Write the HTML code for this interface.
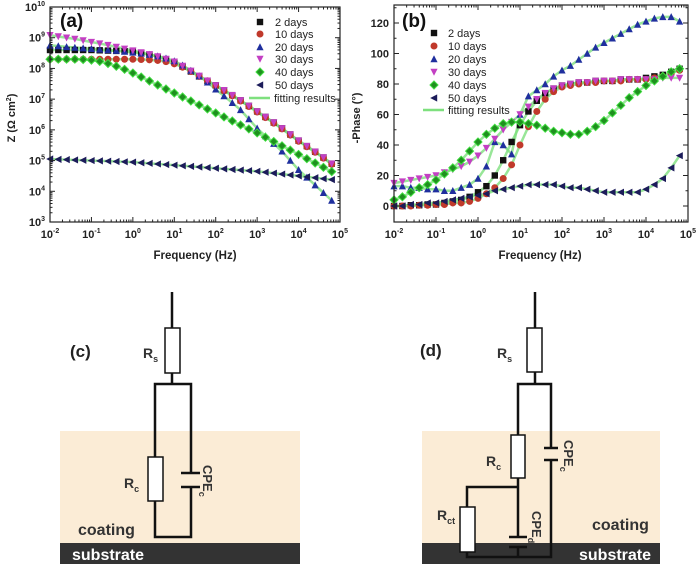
<!DOCTYPE html>
<html><head><meta charset="utf-8"><style>
html,body{margin:0;padding:0;background:#fff;}
svg{display:block;font-family:"Liberation Sans",Arial,sans-serif;}
</style></head><body>
<svg id="fig" width="697" height="568" viewBox="0 0 697 568">
<!-- Circuit (c) -->
<g>
 <rect x="60" y="431" width="240" height="112" fill="#fbecd6"/>
 <rect x="60" y="543" width="240" height="21" fill="#333"/>
 <g stroke="#111" stroke-width="2.5" fill="none">
  <line x1="172" y1="292" x2="172" y2="328"/>
  <line x1="172" y1="373" x2="172" y2="384"/>
  <polyline points="155,457 155,384 191,384 191,473"/>
  <polyline points="155,501 155,537 191,537 191,487"/>
  <line x1="181" y1="473" x2="200" y2="473"/>
  <line x1="181" y1="487" x2="200" y2="487"/>
 </g>
 <rect x="165" y="328" width="15" height="45" fill="#fff" stroke="#111" stroke-width="1.5"/>
 <rect x="148" y="457" width="15" height="44" fill="#fff" stroke="#111" stroke-width="1.5"/>
 <text x="70" y="357" font-size="17" font-weight="bold" fill="#222">(c)</text>
 <text x="143" y="358" font-size="14" font-weight="bold" fill="#333">R<tspan font-size="9" dy="4">s</tspan></text>
 <text x="124" y="488" font-size="14" font-weight="bold" fill="#333">R<tspan font-size="9" dy="4">c</tspan></text>
 <text transform="translate(203,465) rotate(90)" font-size="13" font-weight="bold" fill="#333">CPE<tspan font-size="9" dy="4">c</tspan></text>
 <text x="78" y="535" font-size="16" font-weight="bold" fill="#333">coating</text>
 <text x="72" y="560" font-size="16" font-weight="bold" fill="#fff">substrate</text>
</g>
<!-- Circuit (d) -->
<g>
 <rect x="422" y="431" width="238" height="112" fill="#fbecd6"/>
 <rect x="422" y="543" width="238" height="21" fill="#333"/>
 <g stroke="#111" stroke-width="2.5" fill="none">
  <line x1="535" y1="292" x2="535" y2="328"/>
  <line x1="535" y1="372" x2="535" y2="384"/>
  <polyline points="518,435 518,384 551,384 551,448"/>
  <polyline points="518,478 518,537"/>
  <polyline points="467,507 467,487 518,487"/>
  <polyline points="467,552 467,557 551,557 551,460"/>
  <line x1="544" y1="448" x2="558" y2="448"/>
  <line x1="544" y1="460" x2="558" y2="460"/>
  <line x1="509" y1="537" x2="527" y2="537"/>
  <line x1="509" y1="547" x2="527" y2="547"/>
  <line x1="518" y1="547" x2="518" y2="557"/>
 </g>
 <rect x="527" y="328" width="15" height="44" fill="#fff" stroke="#111" stroke-width="1.5"/>
 <rect x="511" y="435" width="14" height="43" fill="#fff" stroke="#111" stroke-width="1.5"/>
 <rect x="460" y="507" width="15" height="45" fill="#fff" stroke="#111" stroke-width="1.5"/>
 <text x="420" y="356" font-size="17" font-weight="bold" fill="#222">(d)</text>
 <text x="497" y="358" font-size="14" font-weight="bold" fill="#333">R<tspan font-size="9" dy="4">s</tspan></text>
 <text x="486" y="466" font-size="14" font-weight="bold" fill="#333">R<tspan font-size="9" dy="4">c</tspan></text>
 <text x="437" y="520" font-size="14" font-weight="bold" fill="#333">R<tspan font-size="9" dy="4">ct</tspan></text>
 <text transform="translate(564,440) rotate(90)" font-size="13" font-weight="bold" fill="#333">CPE<tspan font-size="9" dy="4">c</tspan></text>
 <text transform="translate(532,511) rotate(90)" font-size="13" font-weight="bold" fill="#333">CPE<tspan font-size="9" dy="4">dl</tspan></text>
 <text x="592" y="530" font-size="16" font-weight="bold" fill="#333">coating</text>
 <text x="579" y="560" font-size="16" font-weight="bold" fill="#fff">substrate</text>
</g>
<g id="chartA"></g>
<g id="chartB"></g>
</svg>
<script>
const logFreq = [-2,-1.8,-1.6,-1.4,-1.2,-1,-0.8,-0.6,-0.4,-0.2,0,0.2,0.4,0.6,0.8,1,1.2,1.4,1.6,1.8,2,2.2,2.4,2.6,2.8,3,3.2,3.4,3.6,3.8,4,4.2,4.4,4.6,4.8];
const seriesNames = ["2 days","10 days","20 days","30 days","40 days","50 days"];
const z2 = [8.6,8.6,8.6,8.6,8.6,8.6,8.59,8.58,8.57,8.56,8.55,8.5,8.45,8.38,8.3,8.2,8.06,7.9,7.74,7.6,7.45,7.29,7.13,6.96,6.78,6.6,6.42,6.24,6.05,5.85,5.65,5.47,5.29,5.1,4.9];
const z10 = [8.3,8.3,8.3,8.3,8.3,8.3,8.3,8.3,8.3,8.3,8.3,8.29,8.28,8.26,8.22,8.15,8.04,7.9,7.74,7.6,7.43,7.27,7.11,6.94,6.76,6.58,6.4,6.22,6.03,5.83,5.63,5.45,5.27,5.08,4.88];
const z20 = [8.75,8.73,8.7,8.68,8.66,8.64,8.62,8.6,8.58,8.55,8.52,8.49,8.45,8.4,8.33,8.24,8.1,7.93,7.75,7.55,7.32,7.1,6.88,6.65,6.35,6.05,5.8,5.55,5.3,5.0,4.7,4.45,4.2,3.95,3.7];
const z30 = [9.08,9.04,9.0,8.96,8.91,8.86,8.81,8.76,8.7,8.64,8.58,8.52,8.46,8.39,8.31,8.22,8.08,7.92,7.76,7.6,7.45,7.29,7.13,6.96,6.78,6.6,6.42,6.24,6.05,5.85,5.65,5.47,5.29,5.1,4.9];
const z40 = [8.3,8.3,8.3,8.3,8.29,8.27,8.23,8.16,8.07,7.97,7.85,7.72,7.59,7.46,7.33,7.2,7.07,6.94,6.81,6.68,6.55,6.42,6.29,6.16,6.03,5.9,5.76,5.62,5.48,5.34,5.2,5.06,4.92,4.78,4.64];
const z50 = [5.05,5.04,5.03,5.02,5.01,5.0,4.99,4.98,4.97,4.96,4.95,4.93,4.91,4.89,4.87,4.85,4.83,4.81,4.79,4.77,4.75,4.73,4.71,4.69,4.67,4.65,4.62,4.59,4.56,4.53,4.5,4.47,4.44,4.41,4.38];
const p2 = [0,0,0.5,0.5,1,1,2,3,4,6,9,13,20,30,42,53,62,69,74,77,79,80,81,81,82,82,82,83,83,83,84,85,86,88,90];
const p10 = [0,0,0,0.5,0.5,1,1,2,2,3,5,8,12,18,27,40,52,62,70,75,78,79,80,81,81,82,82,82,83,83,83,84,85,87,89];
const p20 = [13,13,12,12,11,11,10,10,12,14,18,26,42,40,34,60,72,76,80,85,89,92,96,100,104,107,110,113,116,119,121,123,124,124,121];
const p30 = [15,16,17,18,19,20,22,24,26,29,33,38,44,50,55,60,65,70,74,77,79,80,81,81,82,82,82,83,83,83,83,83,84,84,84];
const p40 = [4,6,9,12,14,17,21,25,30,36,42,47,51,54,55,55,54,53,51,49,48,47,47,49,52,56,61,66,71,75,79,82,85,88,90];
const p50 = [0,0,1,1,2,2,3,4,5,6,7,8,10,11,12,13,14,14,14,14,13,12,12,11,10,9,9,9,9,9,11,14,18,25,33];
const xTickExps = [-2,-1,0,1,2,3,4,5];
const zTickExps = [3,4,5,6,7,8,9,10];
const phaseTicks = [0,20,40,60,80,100,120];

const NS="http://www.w3.org/2000/svg";
function mk(tag, attrs, parent){const e=document.createElementNS(NS,tag);for(const k in attrs)e.setAttribute(k,attrs[k]);parent.appendChild(e);return e;}
const colors=["#111","#c0392b","#1f2f9e","#c33fc3","#1f8f1f","#1c1c5a"];
const shapes=["square","circle","up","down","diamond","left"];
function marker(g,shape,x,y,c){
  const s=3.2;let e;
  if(shape==="square") e=mk("rect",{x:x-s,y:y-s,width:2*s,height:2*s,fill:c},g);
  else if(shape==="circle") e=mk("circle",{cx:x,cy:y,r:s+0.3,fill:c},g);
  else {
    let pts;
    if(shape==="up") pts=[[x,y-s-0.6],[x+s+0.4,y+s],[x-s-0.4,y+s]];
    else if(shape==="down") pts=[[x,y+s+0.6],[x+s+0.4,y-s],[x-s-0.4,y-s]];
    else if(shape==="left") pts=[[x-s-0.6,y],[x+s,y-s-0.4],[x+s,y+s+0.4]];
    else pts=[[x,y-s-0.8],[x+s+0.8,y],[x,y+s+0.8],[x-s-0.8,y]];
    e=mk("polygon",{points:pts.map(p=>p.join(",")).join(" "),fill:c,stroke:shape==="diamond"?"#3ddc3d":"none","stroke-width":shape==="diamond"?1:0},g);
  }
  return e;
}
function tenLabel(g,x,y,exp,anchor){
  const t=mk("text",{x:x,y:y,"font-size":"11","font-weight":"bold",fill:"#222","text-anchor":anchor},g);
  t.innerHTML='10<tspan font-size="7" dy="-5">'+exp+'</tspan>';
  return t;
}
function drawChart(gid, X0,X1,Y0,Y1, ymap, seriesData, isLog){
  const g=document.getElementById(gid);
  const xs=lf=>X0+(lf+2)/7*(X1-X0);
  // fits
  seriesData.forEach((d,i)=>{
    const fl=mk("polyline",{points:logFreq.map((lf,k)=>xs(lf)+","+ymap(d[k])).join(" "),fill:"none",stroke:"#7ee07e","stroke-width":"2.5","stroke-opacity":"0.8"},g);
    
    
  });
  seriesData.forEach((d,i)=>{
    const sg=mk("g",{},g);
    
    
    logFreq.forEach((lf,k)=>{
      const m=marker(sg,shapes[i],xs(lf),ymap(d[k]),colors[i]);
      
      
    });
  });
  // box
  const box=mk("rect",{x:X0,y:Y0,width:X1-X0,height:Y1-Y0,fill:"none",stroke:"#222","stroke-width":"1.2"},g);
  
  
  // x ticks
  xTickExps.forEach(e=>{
    const x=xs(e);
    mk("line",{x1:x,y1:Y1,x2:x,y2:Y1-5,stroke:"#222"},g);
    mk("line",{x1:x,y1:Y0,x2:x,y2:Y0+5,stroke:"#222"},g);
    if(e<5){for(let m=2;m<10;m++){const xm=xs(e+Math.log10(m));mk("line",{x1:xm,y1:Y1,x2:xm,y2:Y1-2.5,stroke:"#222"},g);mk("line",{x1:xm,y1:Y0,x2:xm,y2:Y0+2.5,stroke:"#222"},g);}}
    const t=tenLabel(g,x,Y1+16,e,"middle");
    
    
  });
}
// Chart A
const yA=v=>222-(v-3)/7*215;
drawChart("chartA",50,340,7,222,yA,[z2,z10,z20,z30,z40,z50]);
(function(){
  const g=document.getElementById("chartA");
  zTickExps.forEach(e=>{
    const y=yA(e);
    mk("line",{x1:50,y1:y,x2:55,y2:y,stroke:"#222"},g);
    mk("line",{x1:340,y1:y,x2:335,y2:y,stroke:"#222"},g);
    if(e<10){for(let m=2;m<10;m++){const ym=yA(e+Math.log10(m));mk("line",{x1:50,y1:ym,x2:52.5,y2:ym,stroke:"#222"},g);mk("line",{x1:340,y1:ym,x2:337.5,y2:ym,stroke:"#222"},g);}}
    const t=tenLabel(g,45,y+4,e,"end");
    
    
  });
  let t=mk("text",{x:195,y:259,"font-size":"11.5","font-weight":"bold",fill:"#222","text-anchor":"middle"},g);
  t.textContent="Frequency (Hz)";
  
  
  t=mk("text",{transform:"translate(15,118) rotate(-90)","font-size":"11","font-weight":"bold",fill:"#222","text-anchor":"middle"},g);
  t.innerHTML='Z (Ω cm<tspan font-size="7" dy="-4">2</tspan><tspan dy="4">)</tspan>';
  
  
  t=mk("text",{x:60,y:27,"font-size":"19","font-weight":"bold",fill:"#111"},g);
  t.textContent="(a)";
  
  
  const rows=[22,34,47,59,72,85];
  seriesNames.forEach((n,i)=>{
    const lg=mk("g",{},g);
    
    
    marker(lg,shapes[i],260,rows[i],colors[i]);
    const tt=mk("text",{x:275,y:rows[i]+4,"font-size":"11",fill:"#222"},lg);tt.textContent=n;
  });
  const lg=mk("g",{},g);
  
  
  mk("line",{x1:249,y1:98,x2:270,y2:98,stroke:"#7ee07e","stroke-width":"2.5"},lg);
  const tt=mk("text",{x:274,y:102,"font-size":"11",fill:"#222"},lg);tt.textContent="fitting results";
})();
// Chart B
const yB=v=>206-v*1.525;
drawChart("chartB",394,688,5,222,yB,[p2,p10,p20,p30,p40,p50]);
(function(){
  const g=document.getElementById("chartB");
  phaseTicks.forEach(v=>{
    const y=yB(v);
    mk("line",{x1:394,y1:y,x2:399,y2:y,stroke:"#222"},g);
    mk("line",{x1:688,y1:y,x2:683,y2:y,stroke:"#222"},g);
    const ym=yB(v+10);
    mk("line",{x1:394,y1:ym,x2:396.5,y2:ym,stroke:"#222"},g);
    mk("line",{x1:688,y1:ym,x2:685.5,y2:ym,stroke:"#222"},g);
    const t=mk("text",{x:389,y:y+4,"font-size":"11","font-weight":"bold",fill:"#222","text-anchor":"end"},g);
    t.textContent=v;
    
    
  });
  let t=mk("text",{x:540,y:259,"font-size":"11.5","font-weight":"bold",fill:"#222","text-anchor":"middle"},g);
  t.textContent="Frequency (Hz)";
  
  
  t=mk("text",{transform:"translate(360,118) rotate(-90)","font-size":"11","font-weight":"bold",fill:"#222","text-anchor":"middle"},g);
  t.textContent="-Phase (°)";
  
  
  t=mk("text",{x:402,y:27,"font-size":"19","font-weight":"bold",fill:"#111"},g);
  t.textContent="(b)";
  
  
  const rows=[33,46,59,72,85,98];
  seriesNames.forEach((n,i)=>{
    const lg=mk("g",{},g);
    
    
    marker(lg,shapes[i],434,rows[i],colors[i]);
    const tt=mk("text",{x:448,y:rows[i]+4,"font-size":"11",fill:"#222"},lg);tt.textContent=n;
  });
  const lg=mk("g",{},g);
  
  
  mk("line",{x1:423,y1:110,x2:444,y2:110,stroke:"#7ee07e","stroke-width":"2.5"},lg);
  const tt=mk("text",{x:448,y:114,"font-size":"11",fill:"#222"},lg);tt.textContent="fitting results";
})();
</script>
</body></html>
